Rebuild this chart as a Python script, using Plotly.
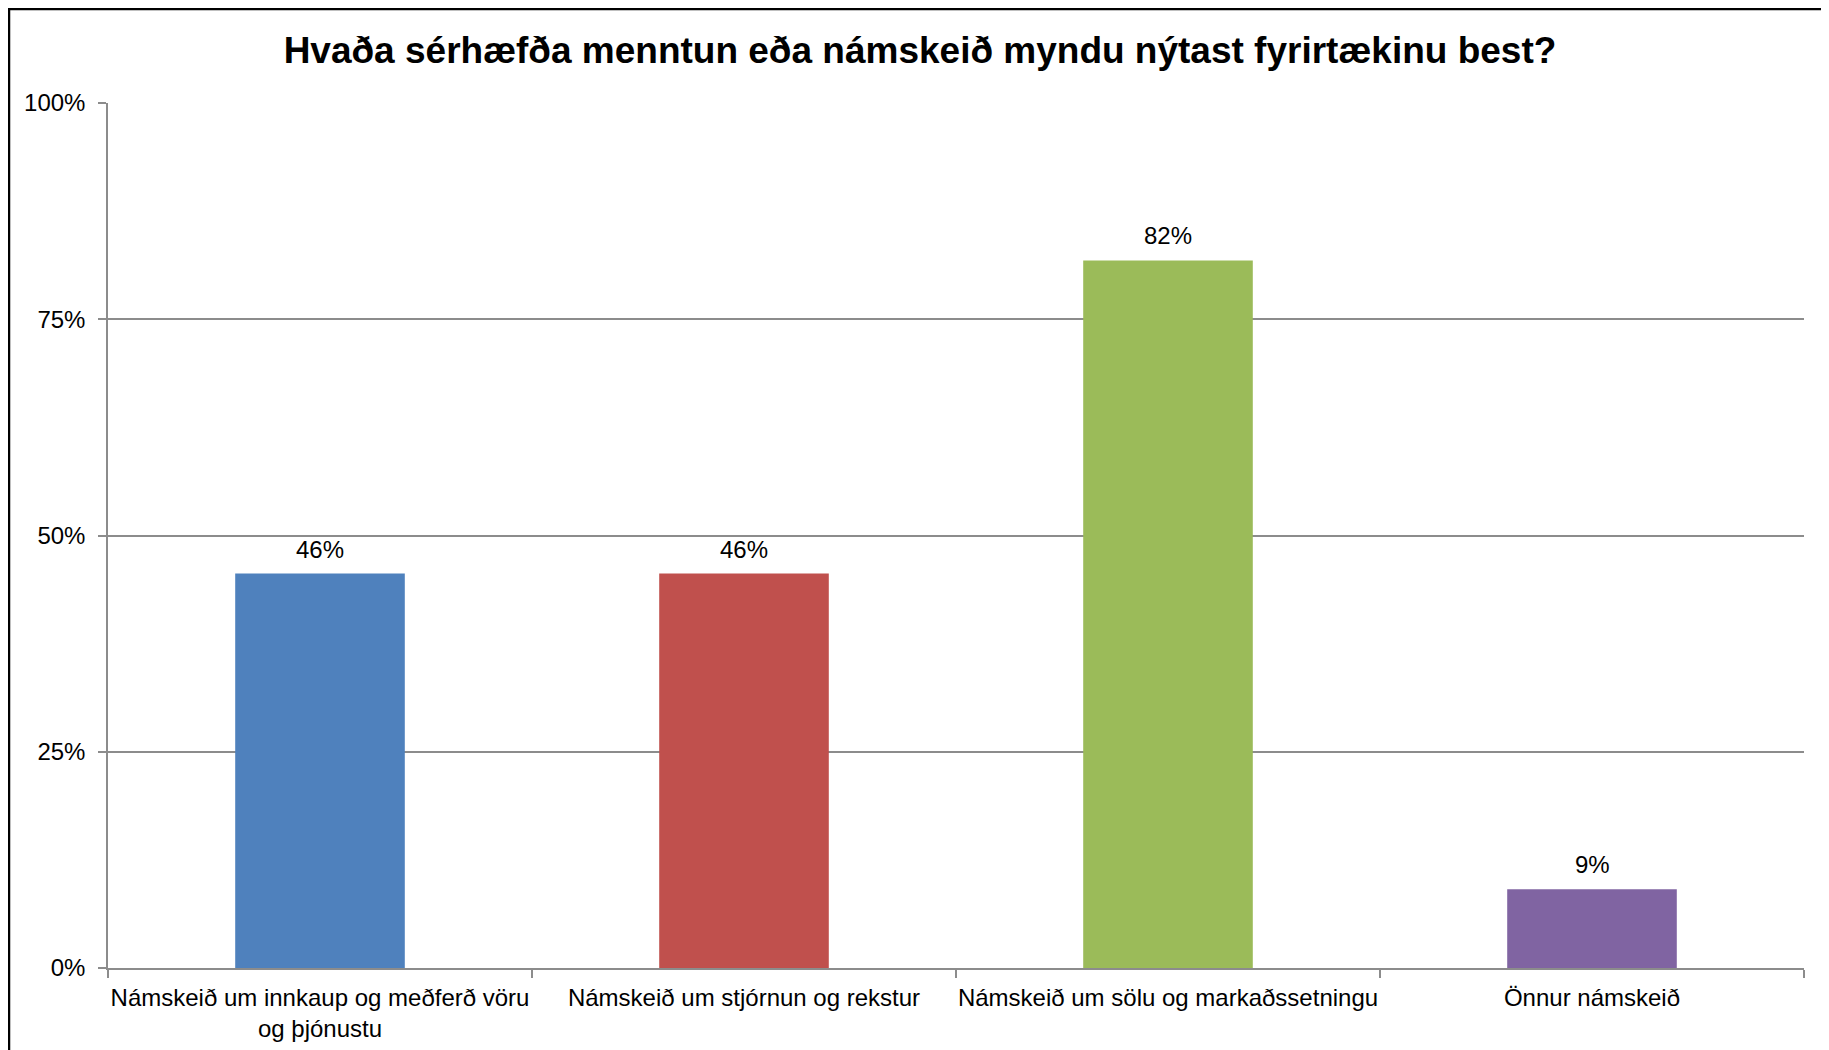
import plotly.graph_objects as go

categories = [
    "Námskeið um innkaup og meðferð vöru og þjónustu",
    "Námskeið um stjórnun og rekstur",
    "Námskeið um sölu og markaðssetningu",
    "Önnur námskeið",
]
tick_labels = [
    "Námskeið um innkaup og meðferð vöru<br>og þjónustu",
    "Námskeið um stjórnun og rekstur",
    "Námskeið um sölu og markaðssetningu",
    "Önnur námskeið",
]
values = [45.6, 45.6, 81.8, 9.1]
bar_colors = ["#4F81BD", "#C0504D", "#9BBB59", "#8064A2"]
y_ticks = [0, 25, 50, 75, 100]
y_tick_labels = ["0%", "25%", "50%", "75%", "100%"]

FONT = "Liberation Sans, Arial, sans-serif"
# page body has an 8px margin; size the figure to fit the window
W, H = 1821, 1042
L, R, T, B = 100, 25, 95, 82

fig = go.Figure(
    go.Bar(
        x=categories,
        y=values,
        marker=dict(color=bar_colors, line=dict(width=0)),
        width=0.4,
        hoverinfo="x+y",
    )
)

for c, v in zip(categories, values):
    fig.add_annotation(
        x=c, y=v, xref="x", yref="y",
        text=f"{v:.0f}%",
        showarrow=False,
        yanchor="bottom",
        yshift=9,
        font=dict(family=FONT, size=24, color="#000000"),
    )

grid_col = "#8c8c8c"
fig.update_layout(
    width=W,
    height=H,
    margin=dict(l=L, r=R, t=T, b=B, pad=0, autoexpand=False),
    paper_bgcolor="white",
    plot_bgcolor="white",
    showlegend=False,
    font=dict(family=FONT, size=24, color="#000000"),
    title=dict(
        text="<b>Hvaða sérhæfða menntun eða námskeið myndu nýtast fyrirtækinu best?</b>",
        font=dict(family=FONT, size=37, color="#000000"),
        x=912 / W,
        xref="container",
        xanchor="center",
        y=1 - 42 / H,
        yref="container",
        yanchor="middle",
    ),
    xaxis=dict(
        type="category",
        tickmode="array",
        tickvals=categories,
        ticktext=tick_labels,
        tickson="boundaries",
        tickangle=0,
        automargin=False,
        ticks="outside",
        ticklen=8,
        tickwidth=1.5,
        tickcolor=grid_col,
        showline=True,
        linecolor=grid_col,
        linewidth=1.5,
        showgrid=False,
        ticklabelstandoff=7,
        tickfont=dict(family=FONT, size=24, color="#000000"),
        range=[-0.5, 3.5],
    ),
    yaxis=dict(
        range=[0, 100],
        tickmode="array",
        tickvals=y_ticks,
        ticktext=y_tick_labels,
        automargin=False,
        ticks="outside",
        ticklen=8,
        tickwidth=1.5,
        tickcolor=grid_col,
        showline=True,
        linecolor=grid_col,
        linewidth=1.5,
        showgrid=True,
        gridcolor=grid_col,
        gridwidth=1.5,
        zeroline=False,
        ticklabelstandoff=8,
        tickfont=dict(family=FONT, size=24, color="#000000"),
    ),
)

# outer chart frame (top and left edges visible)
pw = W - L - R
ph = H - T - B
def px_to_paper_x(px):
    return (px - L) / pw
def px_to_paper_y(py):
    return 1 - (py - T) / ph

fig.add_shape(type="line", xref="paper", yref="paper",
              x0=px_to_paper_x(0), x1=px_to_paper_x(W + 10),
              y0=px_to_paper_y(1), y1=px_to_paper_y(1),
              line=dict(color="#000000", width=2.5))
fig.add_shape(type="line", xref="paper", yref="paper",
              x0=px_to_paper_x(1), x1=px_to_paper_x(1),
              y0=px_to_paper_y(0), y1=px_to_paper_y(H + 10),
              line=dict(color="#000000", width=2.5))

fig.write_html("out.html")
